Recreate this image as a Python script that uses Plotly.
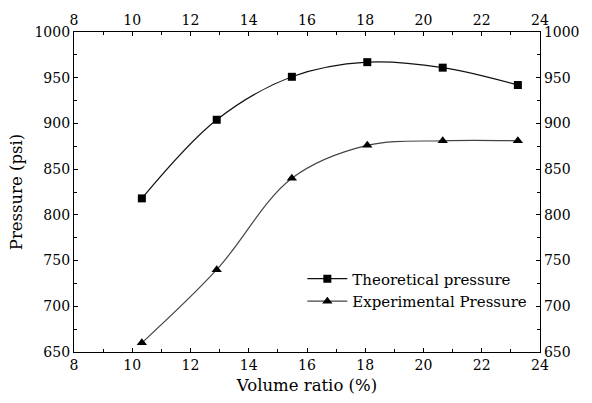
import plotly.graph_objects as go

volume_ratio = [10.33, 12.9, 15.48, 18.07, 20.66, 23.24]
theoretical = [818, 904, 951, 967, 961, 942]
experimental = [660, 740, 840, 876, 881, 881]
x_ticks = [8, 10, 12, 14, 16, 18, 20, 22, 24]
y_ticks = [650, 700, 750, 800, 850, 900, 950, 1000]

FONT = "DejaVu Serif"

fig = go.Figure()
fig.add_trace(go.Scatter(
    x=volume_ratio, y=theoretical, name="Theoretical pressure",
    mode="lines+markers", line=dict(color="#111111", width=1.2, shape="spline", smoothing=1.0),
    marker=dict(symbol="square", size=8, color="#000000")))
fig.add_trace(go.Scatter(
    x=volume_ratio, y=experimental, name="Experimental Pressure",
    mode="lines+markers", line=dict(color="#444444", width=1.2, shape="spline", smoothing=1.0),
    marker=dict(symbol="triangle-up", size=9, color="#000000")))
# invisible trace to anchor the mirror axes
fig.add_trace(go.Scatter(x=[x_ticks[0]], y=[y_ticks[0]], xaxis="x2", yaxis="y2",
                         mode="markers", marker=dict(opacity=0), showlegend=False, hoverinfo="skip"))

axis_common = dict(
    showline=True, linecolor="black", linewidth=1.2, showgrid=False, zeroline=False,
    ticks="inside", ticklen=4, tickcolor="black", tickwidth=1,
    tickfont=dict(family=FONT, size=14, color="black"),
    minor=dict(ticks="inside", ticklen=2.5, tickcolor="black", showgrid=False),
)

fig.update_layout(
    width=592, height=403,
    margin=dict(l=74, r=45, t=28, b=49),
    paper_bgcolor="white", plot_bgcolor="white",
    font=dict(family=FONT, size=15, color="black"),
    xaxis=dict(range=[8, 24], tickvals=x_ticks, minor_dtick=1,
               title=dict(text="Volume ratio (%)", font=dict(family=FONT, size=16.5), standoff=7),
               **axis_common),
    xaxis2=dict(range=[8, 24], tickvals=x_ticks, overlaying="x", side="top", anchor="y",
                minor_dtick=1, **axis_common),
    yaxis=dict(range=[650, 1000], tickvals=y_ticks, minor_dtick=25,
               title=dict(text="Pressure (psi)", font=dict(family=FONT, size=16.5), standoff=7),
               **axis_common),
    yaxis2=dict(range=[650, 1000], tickvals=y_ticks, overlaying="y", side="right", anchor="x",
                minor_dtick=25, **axis_common),
    legend=dict(x=0.49, y=0.28, xanchor="left", yanchor="top",
                bgcolor="rgba(255,255,255,0)", itemwidth=40,
                font=dict(family=FONT, size=15, color="black"), tracegroupgap=0),
    showlegend=True,
)

fig.write_html("out.html")
